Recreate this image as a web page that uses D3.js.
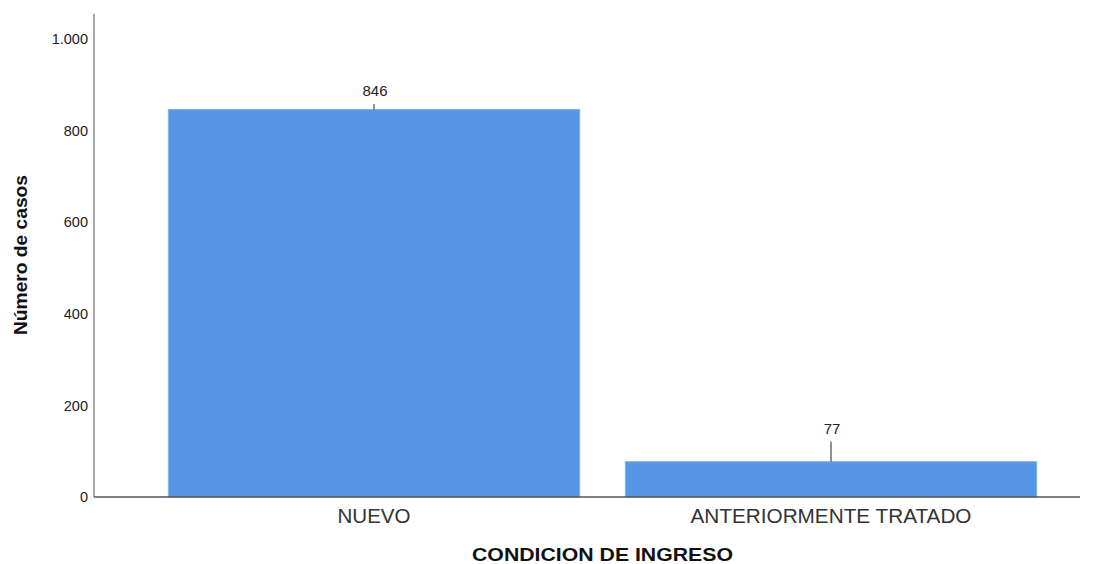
<!DOCTYPE html>
<html><head><meta charset="utf-8">
<script src="https://cdn.jsdelivr.net/npm/d3@7/dist/d3.min.js"></script>
<style>body{margin:0;background:#fff;}svg{display:block;font-family:"Liberation Sans",Arial,sans-serif;}</style>
</head><body><svg id="c" width="1099" height="564"></svg>
<script>
const categories = ["NUEVO", "ANTERIORMENTE TRATADO"];
const values = [846, 77];
const yTicks = [0, 200, 400, 600, 800, 1000];
const yTickLabels = ["0", "200", "400", "600", "800", "1.000"];
const xTitle = "CONDICION DE INGRESO";
const yTitle = "Número de casos";

const svg = d3.select("#c");
const x0 = 94, x1 = 1080, yTop = 14, yBase = 497;
const y = d3.scaleLinear().domain([0, 1000]).range([yBase, 39]);
const x = d3.scaleBand().domain(categories).range([145.5, 1059.5]).paddingInner(0.1).paddingOuter(0.05);
const catWidths = [73, 281];

// bars
svg.selectAll("rect.bar").data(values).join("rect")
  .attr("x", (d,i) => x(categories[i]))
  .attr("y", d => y(d))
  .attr("width", x.bandwidth())
  .attr("height", d => yBase - y(d))
  .attr("fill", "#5596e5")
  .attr("stroke", "#7fb1ee").attr("stroke-width", 1);

// axes
svg.append("line").attr("x1", x0).attr("x2", x0).attr("y1", yTop).attr("y2", yBase)
  .attr("stroke", "#8a8a8a").attr("stroke-width", 1.5);
svg.append("line").attr("x1", x0).attr("x2", x1).attr("y1", yBase).attr("y2", yBase)
  .attr("stroke", "#555").attr("stroke-width", 1.5);

const yAxis = d3.axisLeft(y).tickValues(yTicks).tickSize(0).tickPadding(0)
  .tickFormat((d,i) => yTickLabels[i]);
const ga = svg.append("g").attr("transform", `translate(${x0 - 6},0)`).call(yAxis);
ga.select(".domain").remove();
ga.selectAll("text").attr("font-size", 14.5).attr("fill", "#222").attr("font-family", "Liberation Sans, Arial, sans-serif");

const xAxis = d3.axisBottom(x).tickSize(0).tickPadding(0);
const gx = svg.append("g").attr("transform", `translate(0,523)`).call(xAxis);
gx.select(".domain").remove();
gx.selectAll("text").attr("y", 0).attr("dy", 0)
  .attr("font-size", 19.5).attr("fill", "#333").attr("font-family", "Liberation Sans, Arial, sans-serif")
  .attr("textLength", (d,i) => catWidths[i]).attr("lengthAdjust", "spacingAndGlyphs");

// value labels with leader lines
const labelGap = [13.5, 28];
values.forEach((v, i) => {
  const cx = x(categories[i]) + x.bandwidth() / 2;
  const top = y(v);
  const base = top - labelGap[i];
  svg.append("line").attr("x1", cx).attr("x2", cx).attr("y1", base + 8).attr("y2", top)
    .attr("stroke", "#222").attr("stroke-width", 1);
  svg.append("text").attr("x", cx + 1).attr("y", base).attr("text-anchor", "middle")
    .attr("font-size", 15).attr("fill", "#222").text(v);
});

// titles
svg.append("text").attr("x", 602.5).attr("y", 561).attr("text-anchor", "middle")
  .attr("font-size", 18).attr("font-weight", "bold").attr("fill", "#111")
  .attr("textLength", 261).attr("lengthAdjust", "spacingAndGlyphs").text(xTitle);
svg.append("text").attr("transform", "translate(27,255) rotate(-90)").attr("text-anchor", "middle")
  .attr("font-size", 18).attr("font-weight", "bold").attr("fill", "#111")
  .attr("textLength", 160).attr("lengthAdjust", "spacingAndGlyphs").text(yTitle);
</script></body></html>
